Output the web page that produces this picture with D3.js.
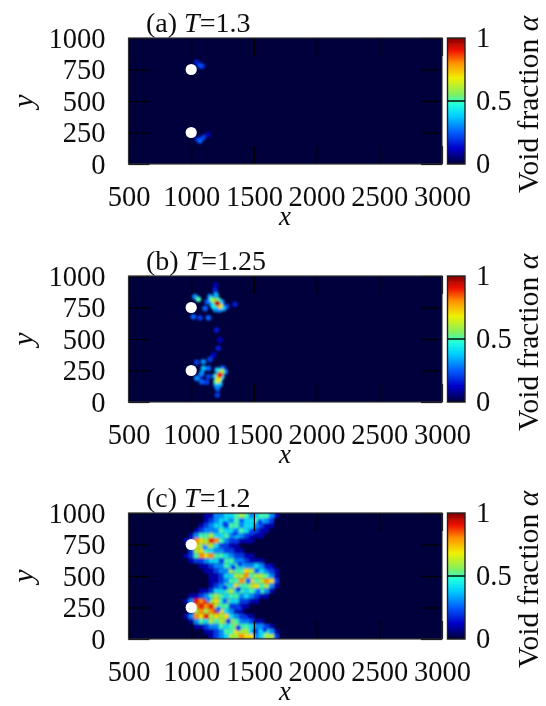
<!DOCTYPE html>
<html>
<head>
<meta charset="utf-8">
<script src="https://cdn.jsdelivr.net/npm/d3@7"></script>
<style>
  body { margin: 0; background: #fff; }
  text { font-family: "Liberation Serif", serif; fill: #111; }
</style>
</head>
<body>
<div id="chart"></div>
<script>
const width = 546;
const height = 706;

/// values ///
const xTicks = [500, 1000, 1500, 2000, 2500, 3000];
const yTicks = [0, 250, 500, 750, 1000];
const barTicks = [0, 0.5, 1];
const barLabels = ["0", "0.5", "1"];
const cylinders = [[1000, 750], [1000, 250]];

// hot spots [x, y, alpha]
const spotsA = [
  [1070, 780, 0.22], [1044, 807, 0.15], [1088, 778, 0.18],
  [1070, 185, 0.25], [1097, 212, 0.2], [1049, 196, 0.15], [1136, 236, 0.1]
];
const spotsB = [
  [1208, 783, 0.95], [1182, 804, 0.6], [1230, 762, 0.7], [1163, 815, 0.5], [1198, 849, 0.35],
  [1150, 836, 0.3], [1243, 796, 0.3], [1256, 743, 0.35], [1177, 757, 0.4], [1129, 796, 0.25],
  [1057, 815, 0.5], [1030, 836, 0.3], [1110, 743, 0.25], [1283, 757, 0.2], [1349, 775, 0.15],
  [1190, 889, 0.15], [1195, 929, 0.1], [1017, 677, 0.25], [1070, 669, 0.2], [1137, 669, 0.25],
  [1203, 571, 0.15], [1230, 492, 0.12], [1216, 426, 0.15], [1177, 373, 0.12],
  [1190, 770, 0.45], [1215, 810, 0.5], [1240, 780, 0.35], [1165, 780, 0.3], [1225, 730, 0.3], [1195, 735, 0.3],
  [1230, 214, 0.9], [1216, 174, 0.7], [1243, 241, 0.6], [1208, 254, 0.4], [1270, 241, 0.3],
  [1198, 161, 0.5], [1230, 143, 0.35], [1211, 108, 0.25], [1208, 55, 0.2], [1097, 267, 0.35],
  [1137, 267, 0.25], [1097, 320, 0.3], [1044, 315, 0.2], [1150, 338, 0.2], [1083, 227, 0.3],
  [1137, 201, 0.2], [1044, 188, 0.3], [1083, 161, 0.25], [1123, 156, 0.2], [1070, 201, 0.15],
  [1215, 205, 0.6], [1245, 200, 0.4], [1190, 205, 0.35], [1230, 180, 0.45], [1250, 270, 0.25], [1200, 130, 0.3]
];
// thin places inside the plumes of panel (c)
const spotsC = [
  [1269, 915, 0.2], [1402, 941, 0.25], [1548, 928, 0.2], [1349, 835, 0.2], [1482, 848, 0.2],
  [1243, 621, 0.2], [1336, 568, 0.2], [1455, 461, 0.25], [1376, 395, 0.2], [1535, 376, 0.25],
  [1269, 408, 0.2], [1522, 541, 0.25], [1389, 595, 0.2], [1615, 568, 0.15], [1296, 141, 0.2],
  [1429, 168, 0.2], [1509, 61, 0.2], [1376, 88, 0.2], [1588, 75, 0.2], [1216, 235, 0.25],
  [1136, 315, 0.3], [1110, 728, 0.3], [1269, 301, 0.25], [1376, 248, 0.2]
];

// panel (c): alpha in tenths on a 40 x 40 grid
const cellX = [960, 1000, 1040, 1080, 1120, 1160, 1200, 1240, 1280, 1320, 1360, 1400, 1440, 1480, 1520, 1560, 1600, 1640, 1680, 1720];
const cellY = [980, 940, 900, 860, 820, 780, 740, 700, 660, 620, 580, 540, 500, 460, 420, 380, 340, 300, 260, 220, 180, 140, 100, 60, 20];
const cellsC = [
  [0,0,0,0,1,1,3,3,4,4,5,6,5,3,4,5,5,3,1,0],
  [0,0,0,0,1,2,3,4,4,3,5,5,4,4,5,4,3,2,0,0],
  [0,0,0,1,2,3,4,4,2,5,5,3,4,4,3,2,1,1,0,0],
  [0,0,1,2,3,3,3,5,4,4,3,5,4,3,2,1,1,0,0,0],
  [0,1,3,5,5,6,4,4,5,3,4,3,2,1,1,1,0,0,0,0],
  [1,2,8,7,6,9,8,5,3,2,2,1,1,1,0,0,0,0,0,0],
  [0,1,7,6,7,6,4,2,2,1,1,0,0,0,0,0,0,0,0,0],
  [0,2,6,7,5,4,3,3,2,2,1,1,0,0,0,0,0,0,0,0],
  [1,2,5,8,7,8,5,5,4,3,2,2,1,1,0,0,0,0,0,0],
  [0,1,2,2,3,4,4,3,5,5,3,3,2,1,1,1,0,0,0,0],
  [0,0,0,1,1,2,3,3,5,4,5,4,3,3,4,3,1,1,0,0],
  [0,0,0,0,1,1,2,3,3,6,5,5,7,6,5,4,3,2,1,0],
  [0,0,0,0,0,1,1,2,4,4,6,6,8,5,6,6,5,3,1,0],
  [0,0,0,0,0,1,1,2,3,5,5,8,6,7,5,6,8,7,2,0],
  [0,0,0,0,0,1,2,3,5,4,7,5,5,6,7,5,6,3,1,0],
  [0,0,0,1,1,2,4,4,5,6,4,5,4,5,4,5,3,1,0,0],
  [0,1,1,2,3,5,6,5,4,5,5,3,4,3,2,1,1,0,0,0],
  [1,3,9,8,9,6,7,5,6,4,4,2,2,1,1,0,0,0,0,0],
  [0,2,8,9,8,9,6,5,5,2,2,1,1,0,0,0,0,0,0,0],
  [0,1,6,8,6,8,9,7,4,3,1,1,0,0,0,0,0,0,0,0],
  [1,3,8,7,9,6,7,6,7,4,3,2,1,1,0,0,0,0,0,0],
  [0,1,3,5,4,6,5,6,6,6,5,3,3,2,1,1,0,0,0,0],
  [0,0,1,1,2,3,3,5,4,5,6,5,5,4,3,3,2,1,0,0],
  [0,0,0,0,1,1,2,3,5,5,7,6,6,4,3,4,5,3,1,0],
  [0,0,0,0,0,1,2,3,4,6,6,8,7,7,3,4,6,6,2,0]
];

const panels = [
  {key: "a", tag: "(a) ", temp: "=1.3", top: 38, spots: spotsA},
  {key: "b", tag: "(b) ", temp: "=1.25", top: 276, spots: spotsB},
  {key: "c", tag: "(c) ", temp: "=1.2", top: 513, spots: spotsC}
];

/// scales ///
const plotLeft = 128.5, plotRight = 442, plotH = 126;
const barLeft = 447.5, barRight = 465;

const x = d3.scaleLinear().domain([500, 3000]).range([plotLeft, plotRight]);
const y = d3.scaleLinear().domain([0, 1000]).range([plotH, 0]);

const jet = d3.scaleLinear()
  .domain([0, 0.12, 0.25, 0.38, 0.47, 0.55, 0.68, 0.8, 0.9, 1])
  .range(["#00003c", "#0000c8", "#0060ff", "#00d0ff", "#20ffe0", "#80f060", "#f0f000", "#ff9000", "#f01000", "#800000"]);

const svg = d3.select("#chart").append("svg")
  .attr("width", width)
  .attr("height", height);

const defs = svg.append("defs");
defs.append("filter").attr("id", "soft").attr("x", "-5%").attr("y", "-5%").attr("width", "110%").attr("height", "110%")
  .append("feGaussianBlur").attr("stdDeviation", 1);
defs.append("filter").attr("id", "print")
  .append("feGaussianBlur").attr("stdDeviation", 0.45);
defs.append("clipPath").attr("id", "plotClip")
  .append("rect").attr("x", plotLeft).attr("y", 0).attr("width", plotRight - plotLeft).attr("height", plotH);

const root = svg.append("g").attr("filter", "url(#print)");

panels.forEach(p => {
  const g = root.append("g").attr("transform", `translate(0,${p.top})`);

  /// 1. field ///
  g.append("rect")
    .attr("x", plotLeft).attr("y", 0)
    .attr("width", plotRight - plotLeft).attr("height", plotH)
    .attr("fill", jet(0));

  const field = g.append("g").attr("clip-path", "url(#plotClip)").append("g").attr("filter", "url(#soft)");

  if (p.key === "c") {
    const cells = cellsC.flatMap((row, i) => row.map((v, j) => ({cx: cellX[j], cy: cellY[i], a: v / 10})));
    field.selectAll("rect")
      .data(cells.filter(d => d.a > 0))
      .join("rect")
        .attr("x", d => x(d.cx - 20))
        .attr("y", d => y(d.cy + 20))
        .attr("width", d => x(d.cx + 20) - x(d.cx - 20))
        .attr("height", d => y(d.cy - 20) - y(d.cy + 20))
        .attr("fill", d => jet(d.a));
  }

  field.selectAll("circle")
    .data(p.spots.slice().sort((a, b) => a[2] - b[2]))
    .join("circle")
      .attr("cx", d => x(d[0]))
      .attr("cy", d => y(d[1]))
      .attr("r", 2.8)
      .attr("fill", d => jet(d[2]));

  /// 2. cylinders ///
  g.selectAll("circle.cyl")
    .data(cylinders)
    .join("circle")
      .attr("class", "cyl")
      .attr("cx", d => x(d[0]))
      .attr("cy", d => y(d[1]))
      .attr("r", 5.6)
      .attr("fill", "#fff");

  /// 3. axes, ticks point inwards ///
  const axes = [
    d3.axisLeft(y).tickValues(yTicks).tickFormat(d3.format("d")).tickSizeInner(-21).tickSizeOuter(0).tickPadding(23),
    d3.axisBottom(x).tickValues(xTicks).tickFormat(d3.format("d")).tickSizeInner(-18).tickSizeOuter(0).tickPadding(22),
    d3.axisRight(y).tickValues(yTicks).tickSizeInner(-21).tickSizeOuter(0).tickFormat(""),
    d3.axisTop(x).tickValues(xTicks).tickSizeInner(-18).tickSizeOuter(0).tickFormat("")
  ];
  const offsets = [[plotLeft, 0], [0, plotH], [plotRight, 0], [0, 0]];
  axes.forEach((axis, i) => {
    const a = g.append("g")
      .attr("transform", `translate(${offsets[i][0]},${offsets[i][1]})`)
      .call(axis);
    a.select(".domain").remove();
    a.selectAll("line").attr("stroke", "#000").attr("stroke-width", 1.2);
    a.selectAll("text").style("font-family", '"Liberation Serif", serif').style("font-size", "28.5px").attr("fill", "#111");
  });

  g.append("rect")
    .attr("x", plotLeft).attr("y", 0)
    .attr("width", plotRight - plotLeft).attr("height", plotH)
    .attr("fill", "none").attr("stroke", "#333").attr("stroke-width", 1.2);

  /// 4. colour bar ///
  const bar = d3.scaleLinear().domain([0, 1]).range([plotH, 0]);
  const steps = d3.range(0, 1, 1 / plotH);
  g.append("g").selectAll("rect")
    .data(steps)
    .join("rect")
      .attr("x", barLeft)
      .attr("y", d => bar(d) - 1)
      .attr("width", barRight - barLeft)
      .attr("height", 1.2)
      .attr("fill", d => jet(d));
  g.append("rect")
    .attr("x", barLeft).attr("y", 0)
    .attr("width", barRight - barLeft).attr("height", plotH)
    .attr("fill", "none").attr("stroke", "#222").attr("stroke-width", 1.4);
  g.append("line")
    .attr("x1", barLeft).attr("x2", barRight)
    .attr("y1", bar(0.5)).attr("y2", bar(0.5))
    .attr("stroke", "#000").attr("stroke-width", 1.4);
  g.selectAll("text.bar")
    .data(barTicks)
    .join("text")
      .attr("class", "bar")
      .attr("x", 476)
      .attr("y", d => bar(d))
      .attr("dy", "0.32em")
      .style("font-size", "28.5px")
      .text((d, i) => barLabels[i]);

  /// 5. titles ///
  const title = g.append("text")
    .attr("x", 146).attr("y", -6)
    .style("font-size", "28px");
  title.append("tspan").text(p.tag);
  title.append("tspan").style("font-style", "italic").text("T");
  title.append("tspan").text(p.temp);

  g.append("text")
    .attr("x", 285).attr("y", 187)
    .attr("text-anchor", "middle")
    .style("font-size", "27px").style("font-style", "italic")
    .text("x");

  g.append("text")
    .attr("transform", `translate(33,${plotH / 2}) rotate(-90)`)
    .attr("text-anchor", "middle")
    .style("font-size", "30px").style("font-style", "italic")
    .text("y");

  const side = g.append("text")
    .attr("transform", `translate(538,155) rotate(-90)`)
    .style("font-size", "29.5px");
  side.append("tspan").text("Void fraction ");
  side.append("tspan").style("font-style", "italic").text("α");
});
</script>
</body>
</html>
